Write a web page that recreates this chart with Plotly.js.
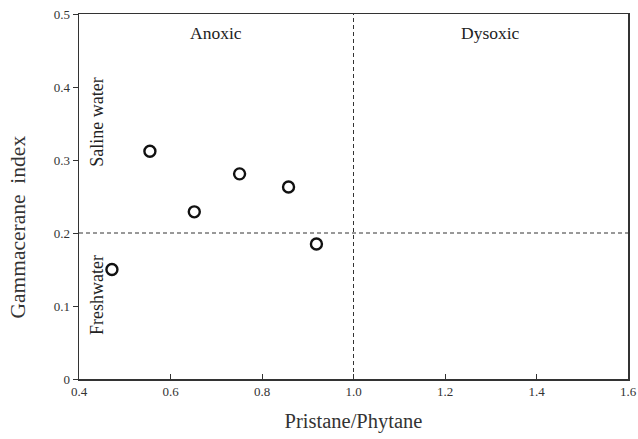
<!DOCTYPE html>
<html>
<head>
<meta charset="utf-8">
<script src="https://cdn.plot.ly/plotly-3.0.1.min.js"></script>
<style>html,body{margin:0;padding:0;background:#fff;}#chart{width:638px;height:439px;}</style>
</head>
<body>
<div id="chart"></div>
<script>
// Data
const pristanePhytane = [0.555, 0.652, 0.751, 0.858, 0.919, 0.472];
const gammaceraneIndex = [0.312, 0.229, 0.281, 0.263, 0.185, 0.150];
const xTickVals = [0.4, 0.6, 0.8, 1.0, 1.2, 1.4, 1.6];
const yTickVals = [0, 0.1, 0.2, 0.3, 0.4, 0.5];
const yTickText = ['0', '0.1', '0.2', '0.3', '0.4', '0.5'];
const ppThreshold = 1.0;
const gamThreshold = 0.2;
const zoneLabels = ['Anoxic', 'Dysoxic'];
const zoneLabelX = [0.7, 1.3];
const salinityLabels = ['Saline water', 'Freshwater'];
const salinityLabelY = [0.351, 0.115];
const xTitle = 'Pristane/Phytane';
const yTitle = 'Gammacerane  index';

const font = 'Liberation Serif, Times New Roman, serif';

const traces = [{
  x: pristanePhytane,
  y: gammaceraneIndex,
  type: 'scatter',
  mode: 'markers',
  marker: {symbol: 'circle-open', size: 11, color: '#111', line: {width: 2.4, color: '#111'}},
  hoverinfo: 'x+y',
  showlegend: false
}];

const annotations = [];
zoneLabels.forEach((t, i) => annotations.push({
  x: zoneLabelX[i], y: 0.474, xref: 'x', yref: 'y', text: t, showarrow: false,
  font: {family: font, size: 17.5, color: '#222'}
}));
salinityLabels.forEach((t, i) => annotations.push({
  x: 0.4, y: salinityLabelY[i], xref: 'x', yref: 'y', text: t, showarrow: false,
  textangle: -90, xanchor: 'center', xshift: 18,
  font: {family: font, size: 18, color: '#222'}
}));
annotations.push({
  x: 0, y: 0.415, xref: 'paper', yref: 'paper', text: yTitle, showarrow: false,
  textangle: -90, xanchor: 'center', yanchor: 'middle', xshift: -61,
  font: {family: font, size: 21.5, color: '#333'}
});

const layout = {
  width: 638, height: 439,
  margin: {l: 79, r: 10, t: 14, b: 60},
  paper_bgcolor: '#fff', plot_bgcolor: '#fff',
  font: {family: font, color: '#333'},
  xaxis: {
    range: [0.4, 1.6], tickvals: xTickVals, tickformat: '.1f',
    ticks: 'inside', ticklen: 5, tickcolor: '#333', tickwidth: 1,
    showline: true, linecolor: '#333', linewidth: 1.5, mirror: true,
    showgrid: false, zeroline: false,
    tickfont: {family: font, size: 13, color: '#333'},
    title: {text: xTitle, font: {family: font, size: 20.5, color: '#333'}, standoff: 15}
  },
  yaxis: {
    range: [0, 0.5], tickvals: yTickVals, ticktext: yTickText,
    ticks: 'outside', ticklen: 5, tickcolor: '#333', tickwidth: 1,
    showline: true, linecolor: '#333', linewidth: 1.5, mirror: true,
    showgrid: false, zeroline: false,
    tickfont: {family: font, size: 13, color: '#333'}
  },
  shapes: [
    {type: 'line', xref: 'x', yref: 'y', x0: ppThreshold, x1: ppThreshold, y0: 0, y1: 0.5,
     line: {color: '#333', width: 1, dash: '4px,3px'}},
    {type: 'line', xref: 'x', yref: 'y', x0: 0.4, x1: 1.6, y0: gamThreshold, y1: gamThreshold,
     line: {color: '#333', width: 1, dash: '4px,3px'}}
  ],
  annotations: annotations
};

Plotly.newPlot('chart', traces, layout, {displayModeBar: false, staticPlot: true});
</script>
</body>
</html>
